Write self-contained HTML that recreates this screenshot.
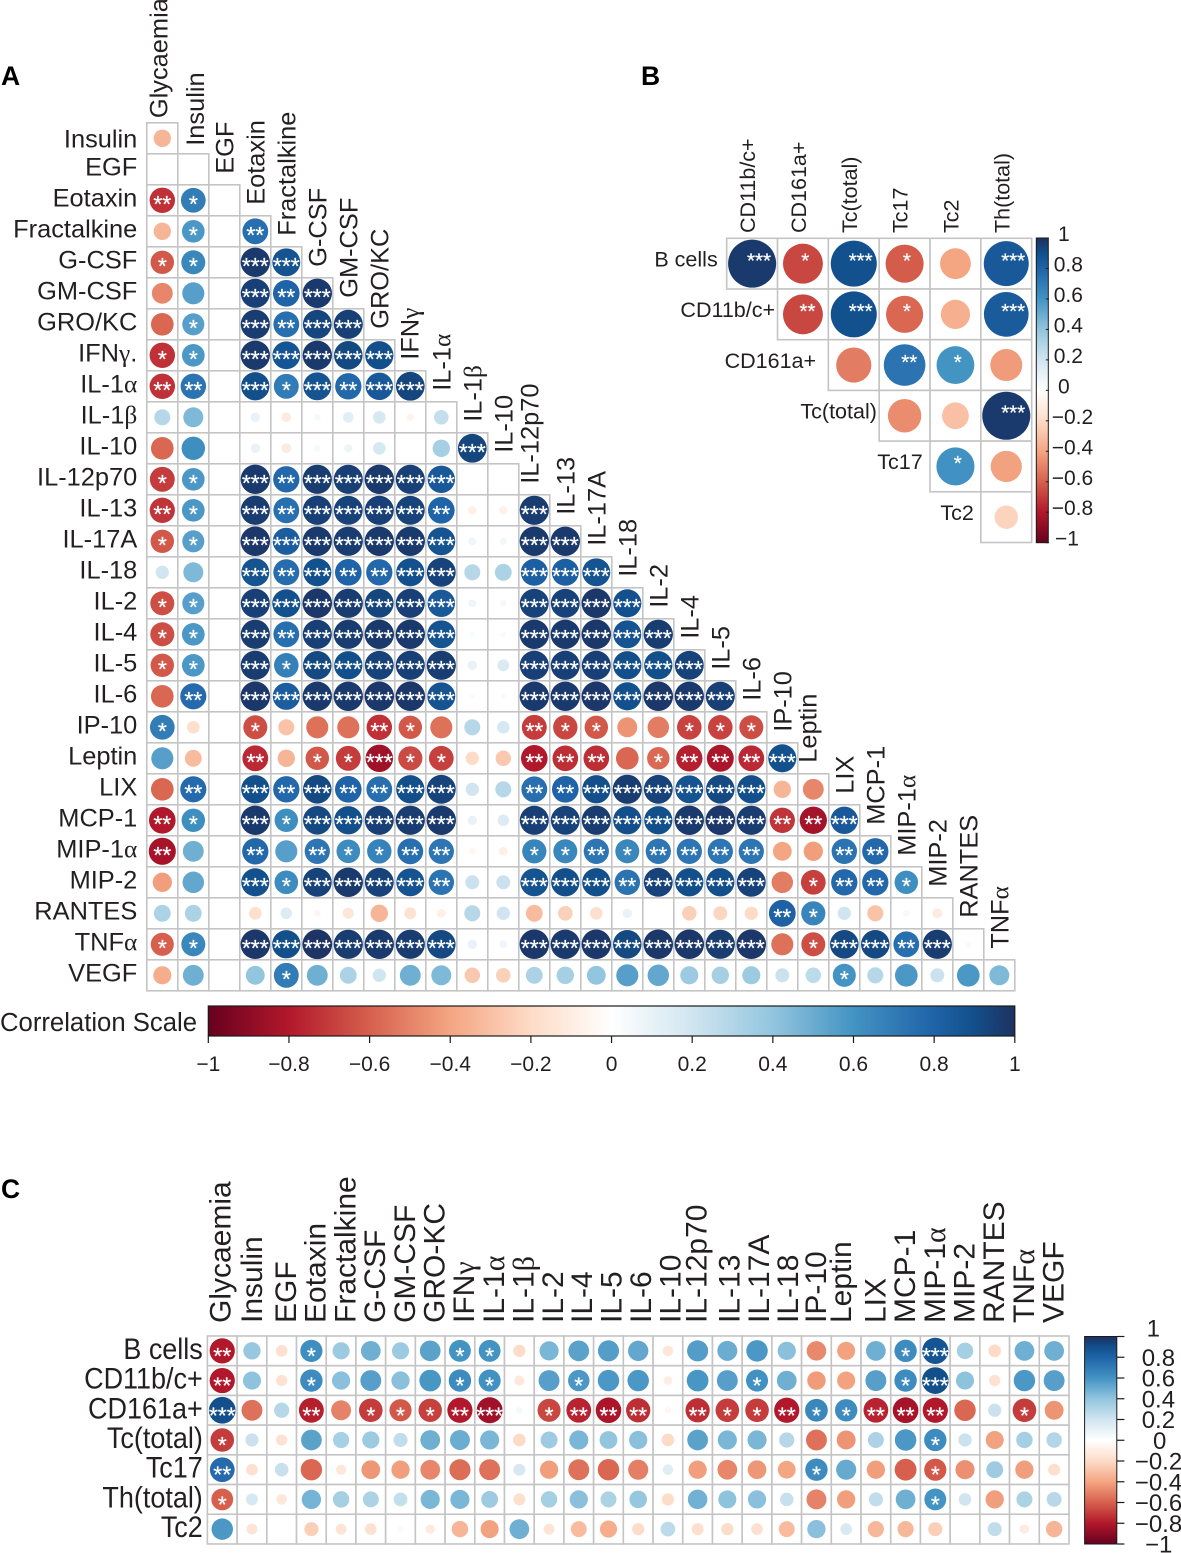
<!DOCTYPE html>
<html lang="en">
<head>
<meta charset="utf-8">
<title>Correlation matrices</title>
<style>
html,body{margin:0;padding:0;background:#fff;width:1181px;height:1553px;overflow:hidden}
svg{display:block;font-family:"Liberation Sans",Arial,sans-serif;fill:#231f20}
</style>
</head>
<body>
<svg id="figure" xmlns="http://www.w3.org/2000/svg" width="1181" height="1553" viewBox="0 0 1181 1553">
  <defs id="defs"></defs>
  <text x="1" y="85" font-size="26.5" font-weight="bold" fill="#000">A</text>
  <text x="641" y="85" font-size="26.5" font-weight="bold" fill="#000">B</text>
  <text x="1" y="1198" font-size="26.5" font-weight="bold" fill="#000">C</text>
  <g id="panelA"></g>
  <g id="barA"></g>
  <text x="0" y="1031" font-size="25.5" textLength="197" lengthAdjust="spacingAndGlyphs">Correlation Scale</text>
  <g id="panelB"></g>
  <g id="barB"></g>
  <g id="panelC"></g>
  <g id="barC"></g>
</svg>
<script>
// ---------- Panel A data ----------
const aRowLabels = ['Insulin','EGF','Eotaxin','Fractalkine','G-CSF','GM-CSF','GRO/KC','IFNγ.','IL-1α','IL-1β','IL-10','IL-12p70','IL-13','IL-17A','IL-18','IL-2','IL-4','IL-5','IL-6','IP-10','Leptin','LIX','MCP-1','MIP-1α','MIP-2','RANTES','TNFα','VEGF'];
const aColLabels = ['Glycaemia','Insulin','EGF','Eotaxin','Fractalkine','G-CSF','GM-CSF','GRO/KC','IFNγ','IL-1α','IL-1β','IL-10','IL-12p70','IL-13','IL-17A','IL-18','IL-2','IL-4','IL-5','IL-6','IP-10','Leptin','LIX','MCP-1','MIP-1α','MIP-2','RANTES','TNFα'];
const aValues = [
[-.34],
[0,0],
[-.73,.69,0],
[-.34,.58,0,.75],
[-.62,.65,0,.97,.88],
[-.49,.55,0,.95,.8,.97],
[-.58,.55,0,.96,.75,.93,.95],
[-.73,.58,0,.97,.87,.97,.92,.9],
[-.73,.73,0,.9,.7,.88,.78,.85,.93],
[.29,.45,0,.1,-.11,.05,.13,.18,-.06,.24],
[-.58,.62,0,.1,-.11,.05,.08,.18,0,.34,.93],
[-.7,.58,0,.97,.78,.96,.95,.97,.95,.85,0,0],
[-.72,.58,0,.96,.75,.95,.94,.95,.94,.8,-.085,-.08,.96],
[-.62,.55,0,.98,.83,.97,.96,.97,.97,.88,.07,.06,.97,.97],
[.2,.45,0,.88,.76,.89,.8,.78,.89,.94,.29,.32,.82,.82,.88],
[-.65,.55,0,.95,.89,.98,.96,.93,.95,.85,.07,.05,.94,.94,.98,.89],
[-.65,.58,0,.96,.75,.95,.96,.97,.97,.88,.03,.04,.97,.97,.98,.88,.96],
[-.62,.58,0,.96,.68,.92,.9,.94,.95,.96,.1,.16,.95,.95,.95,.9,.9,.94],
[-.58,.77,0,.98,.83,.97,.97,.98,.98,.88,.03,.03,.97,.97,.98,.89,.98,.97,.95],
[.69,-.18,0,-.65,-.29,-.55,-.55,-.73,-.62,-.55,.29,.18,-.7,-.67,-.62,-.45,-.52,-.68,-.68,-.65],
[.55,-.32,0,-.75,-.34,-.62,-.7,-.85,-.66,-.69,-.2,-.27,-.8,-.74,-.74,-.58,-.57,-.78,-.82,-.75,.89],
[-.58,.77,0,.9,.78,.92,.8,.75,.9,.94,.2,.29,.75,.8,.9,.96,.94,.88,.92,.9,-.34,-.49],
[-.8,.62,0,.97,.62,.92,.9,.95,.96,.97,.1,.15,.95,.94,.96,.9,.9,.97,.98,.96,-.72,-.84,.85],
[-.83,.49,0,.78,.55,.72,.63,.67,.75,.72,-.05,-.085,.66,.65,.72,.65,.72,.72,.72,.72,-.4,-.42,.73,.78],
[-.42,.52,0,.89,.63,.94,.97,.94,.88,.73,.22,.22,.88,.9,.9,.73,.94,.9,.9,.94,-.52,-.69,.78,.78,.62],
[.32,.32,0,-.18,.15,-.05,-.14,-.34,-.16,-.085,.29,.2,-.32,-.24,-.18,.1,0,-.24,-.22,-.2,.81,.66,.2,-.29,.05,-.11],
[-.6,.65,0,.98,.9,.99,.96,.97,.96,.92,.1,.07,.98,.97,.98,.92,.98,.98,.96,.98,-.55,-.65,.92,.92,.75,.96,-.04],
[-.37,.49,0,.4,.7,.49,.32,.2,.49,.45,-.27,-.24,.32,.34,.4,.55,.52,.37,.34,.37,.22,.27,.6,.29,.58,.22,.58,.45]
];
const aStars = ['0','00','210','0102','11033','000323','0103233','11033333','220313233','0000000000','00000000003','110323333300','2103233332003','11033333330033','000323223300333','1103333333003333','11032333330033333','110313333300333333','0203333333003333333','10010002100021100111','000201131100222012223','0203232233002233333300','21031333330033333333223','200202112200112122220022','0003133332003332333301221','00000000000000000000210000','110333333300333333330133230','0000100000000000000000100000'];

// ---------- Panel B data ----------
const bRowLabels = ['B cells','CD11b/c+','CD161a+','Tc(total)','Tc17','Tc2'];
const bColLabels = ['CD11b/c+','CD161a+','Tc(total)','Tc17','Tc2','Th(total)'];
const bValues = [
[.97,-.67,.89,-.61,-.4,.85],
[-.67,.89,-.58,-.36,.84],
[-.52,.73,.6,-.43],
[-.47,-.3,.97],
[.61,-.41],
[-.23]
];
const bStars = ['313103','23103','0210','003','10','0'];

// ---------- Panel C data ----------
const cRowLabels = ['B cells','CD11b/c+','CD161a+','Tc(total)','Tc17','Th(total)','Tc2'];
const cColLabels = ['Glycaemia','Insulin','EGF','Eotaxin','Fractalkine','G-CSF','GM-CSF','GRO-KC','IFNγ','IL-1α','IL-1β','IL-2','IL-4','IL-5','IL-6','IL-10','IL-12p70','IL-13','IL-17A','IL-18','IP-10','Leptin','LIX','MCP-1','MIP-1α','MIP-2','RANTES','TNFα','VEGF'];
const cValues = [
[-.8,.38,-.17,.62,.37,.49,.37,.54,.6,.6,-.19,.46,.54,.56,.52,-.14,.56,.5,.58,.42,-.48,-.41,.49,.63,.87,.34,-.2,.49,.49],
[-.8,.41,-.16,.63,.42,.55,.42,.59,.63,.61,-.13,.55,.58,.58,.58,-.1,.59,.55,.61,.49,-.43,-.41,.55,.63,.9,.41,-.16,.58,.55],
[.9,-.55,.29,-.78,-.5,-.7,-.62,-.69,-.8,-.85,.05,-.67,-.77,-.82,-.74,-.05,-.74,-.7,-.7,-.8,.65,.63,-.77,-.83,-.8,-.58,.22,-.7,-.45],
[-.7,.22,-.16,.54,.33,.37,.25,.49,.5,.46,-.2,.36,.46,.4,.42,-.2,.54,.46,.46,.29,-.55,-.45,.32,.58,.63,.22,-.41,.34,.3],
[.77,-.17,.23,-.58,-.13,-.44,-.42,-.49,-.56,-.55,.18,-.42,-.55,-.58,-.51,.14,-.42,-.49,-.44,-.4,.63,.51,-.42,-.6,-.62,-.46,.36,-.42,-.18],
[-.6,.18,-.14,.47,.34,.32,.24,.46,.46,.36,-.18,.34,.42,.32,.39,-.19,.48,.41,.42,.23,-.5,-.42,.25,.49,.6,.2,-.42,.32,.28],
[.58,-.15,.01,-.25,-.15,-.17,-.04,-.11,-.34,-.41,.49,-.15,-.32,-.37,-.19,.27,-.18,-.19,-.17,-.32,.42,.17,-.33,-.33,-.25,0,.25,-.11,-.34]
];
const cStars = [
'20010000110000000000000130000',
'20010000110010000010000130000',
'30020111230122202112112220010',
'10000000000000000000000010000',
'20000000000000000000100010000',
'10000000000000000000000010000',
'00000000000000000000000000000'
];

// ---------- Colorbar data ----------
const scaleTicks = [-1,-.8,-.6,-.4,-.2,0,.2,.4,.6,.8,1];
const scaleTickLabels = ['−1','−0.8','−0.6','−0.4','−0.2','0','0.2','0.4','0.6','0.8','1'];
const scaleStops = [-1,-.8,-.6,-.4,-.2,0,.2,.4,.6,.8,.9,1];
const scaleColors = ['#67001f','#b2182b','#d6604d','#f4a582','#fddbc7','#ffffff','#d1e5f0','#92c5de','#4393c3','#1f63a8','#124f8b','#1e3160'];

// ---------- Helpers ----------
const NS = 'http://www.w3.org/2000/svg';
function mk(tag, attrs, parent) {
  const e = document.createElementNS(NS, tag);
  for (const k in attrs) e.setAttribute(k, attrs[k]);
  if (parent) parent.appendChild(e);
  return e;
}
function slug(s) {
  return String(s).toLowerCase().replace(/α/g,'alpha').replace(/β/g,'beta').replace(/γ/g,'gamma').replace(/[^a-z0-9]+/g,'-').replace(/^-|-$/g,'');
}
function colorFor(v) {
  const t = Math.max(-1, Math.min(1, v));
  for (let i = 0; i < scaleStops.length - 1; i++) {
    if (t <= scaleStops[i + 1]) {
      const f = (t - scaleStops[i]) / (scaleStops[i + 1] - scaleStops[i]);
      const a = parseInt(scaleColors[i].slice(1), 16), b = parseInt(scaleColors[i + 1].slice(1), 16);
      const ch = s => Math.round(((a >> s) & 255) * (1 - f) + ((b >> s) & 255) * f);
      return 'rgb(' + ch(16) + ',' + ch(8) + ',' + ch(0) + ')';
    }
  }
  return scaleColors[scaleColors.length - 1];
}
function fillLabel(t, str) {
  str.split(/([αβγ])/).forEach(part => {
    if (!part) return;
    if (/[αβγ]/.test(part)) {
      const s = mk('tspan', {'font-family': '"Liberation Serif","DejaVu Serif",serif'}, t);
      
      
      s.textContent = part;
    } else {
      t.appendChild(document.createTextNode(part));
    }
  });
}
function drawCell(parent, x, y, w, h, name) {
  const c = mk('rect', {x: x, y: y, width: w, height: h, fill: '#fff', stroke: '#c4c4c4', 'stroke-width': 1.6}, parent);
  
  
}
function drawDot(parent, cx, cy, v, rad, name) {
  if (!v) return;
  const d = mk('circle', {cx: cx, cy: cy, r: rad * Math.sqrt(Math.abs(v)), fill: colorFor(v)}, parent);
  
  
}
function drawStars(parent, x, y, n, size, name) {
  if (!n) return;
  const s = mk('text', {x: x, y: y, 'font-size': size, 'text-anchor': 'middle', fill: '#fff', stroke: '#fff', 'stroke-width': .25}, parent);
  
  
  s.textContent = '*'.repeat(n);
}
function rowLabel(parent, x, y, str, size, sx) {
  const t = mk('text', {'text-anchor': 'end', 'font-size': size, transform: 'translate(' + x + ',' + y + ') scale(' + sx + ',1)'}, parent);
  
  
  fillLabel(t, str);
}
function colLabel(parent, x, y, str, size) {
  const t = mk('text', {'font-size': size, transform: 'translate(' + x + ',' + y + ') rotate(-90)'}, parent);
  
  
  fillLabel(t, str);
}

// ---------- Gradients ----------
const defs = document.getElementById('defs');
function gradient(id, vertical) {
  const g = mk('linearGradient', {id: id, x1: 0, y1: vertical ? 1 : 0, x2: vertical ? 0 : 1, y2: 0}, defs);
  scaleStops.forEach((s, i) => mk('stop', {offset: (s + 1) / 2, 'stop-color': scaleColors[i]}, g));
}
gradient('gradH', false);
gradient('gradV', true);

// ---------- Panel A ----------
(function () {
  const g = document.getElementById('panelA');
  const x0 = 146.8, y0 = 122.8, step = 31, rad = 14.9;
  const xA = c => x0 + step * c;
  const yA = r => y0 + step * r;
  aValues.forEach((row, r) => row.forEach((v, c) => {
    drawCell(g, xA(c), yA(r), step, step, slug(aRowLabels[r]) + '-' + slug(aColLabels[c]));
  }));
  aValues.forEach((row, r) => row.forEach((v, c) => {
    const name = slug(aRowLabels[r]) + '-' + slug(aColLabels[c]);
    const cx = xA(c) + step / 2, cy = yA(r) + step / 2;
    drawDot(g, cx, cy, v, rad, name);
    drawStars(g, cx, cy + 11.6, +aStars[r][c], 23, name);
  }));
  aRowLabels.forEach((l, r) => {
    const off = r === 0 ? 9.3 : 6;
    rowLabel(g, 137.3, yA(r) + step / 2 + off, l, 25.4, 1);
  });
  aColLabels.forEach((l, c) => {
    let off = 9.4;
    if (l === 'Glycaemia') off = 5;
    if (l === 'Insulin') off = 10.7;
    if (l === 'IFNγ') off = 8;
    if (l === 'Leptin') off = 3;
    if (l === 'IL-12p70') off = 4;
    const gap = c === 0 ? 4.7 : c === 1 ? 8 : 11;
    colLabel(g, xA(c) + step / 2 + off, yA(c) - gap, l, 25.4);
  });
})();

// ---------- Panel A colorbar ----------
(function () {
  const g = document.getElementById('barA');
  const left = 208.3, right = 1014.8, top = 1006, bottom = 1036;
  const sx = v => left + (v + 1) / 2 * (right - left);
  const b = mk('rect', {x: left, y: top, width: right - left, height: bottom - top, fill: 'url(#gradH)', stroke: '#1a1a1a', 'stroke-width': 1.2}, g);
  
  
  scaleTicks.forEach((v, i) => {
    const t = mk('line', {x1: sx(v), x2: sx(v), y1: bottom, y2: 1043, stroke: '#1a1a1a', 'stroke-width': 1.2}, g);
    
    
    const l = mk('text', {x: sx(v), y: 1071, 'font-size': 21, 'text-anchor': 'middle'}, g);
    
    
    l.textContent = scaleTickLabels[i];
  });
})();

// ---------- Panel B ----------
(function () {
  const g = document.getElementById('panelB');
  const x0 = 726.7, y0 = 238.3, sx = 50.83, sy = 50.7, rad = 24.4;
  bValues.forEach((row, r) => row.forEach((v, i) => {
    const c = r + i;
    drawCell(g, x0 + sx * c, y0 + sy * r, sx, sy, slug(bRowLabels[r]) + '-' + slug(bColLabels[c]));
  }));
  bValues.forEach((row, r) => row.forEach((v, i) => {
    const c = r + i;
    const name = slug(bRowLabels[r]) + '-' + slug(bColLabels[c]);
    const cx = x0 + sx * (c + .5), cy = y0 + sy * (r + .5);
    drawDot(g, cx, cy, v, rad, name);
    const n = +bStars[r][i];
    drawStars(g, cx + 2.3 * n, cy + 3.7, n, 20.5, name);
  }));
  const gaps = [9, 2.5, 12.3, 2.3, 7.3, 7];
  bRowLabels.forEach((l, r) => {
    rowLabel(g, x0 + sx * r - gaps[r], y0 + sy * (r + .5) + 2.7, l, 21.5, 1);
  });
  bColLabels.forEach((l, c) => {
    colLabel(g, x0 + sx * (c + .5) + 3, 233, l, 21.5);
  });
})();

// ---------- Panel B colorbar ----------
(function () {
  const g = document.getElementById('barB');
  const left = 1036.3, right = 1048.3, top = 238, bottom = 542.7;
  const sy = v => bottom - (v + 1) / 2 * (bottom - top);
  const b = mk('rect', {x: left, y: top, width: right - left, height: bottom - top, fill: 'url(#gradV)', stroke: '#1a1a1a', 'stroke-width': 1}, g);
  
  
  scaleTicks.forEach((v, i) => {
    const t = mk('line', {x1: right - 2.5, x2: right + .5, y1: sy(v), y2: sy(v), stroke: '#1a1a1a', 'stroke-width': 1}, g);
    
    
    const neg = v < 0;
    const x = neg ? (v === -1 ? 1055 : 1051.7) : (v === 1 || v === 0 ? 1058 : 1053.7);
    const l = mk('text', {x: x, y: sy(v) + 3, 'font-size': 21}, g);
    
    
    l.textContent = scaleTickLabels[i];
  });
})();

// ---------- Panel C ----------
(function () {
  const g = document.getElementById('panelC');
  const x0 = 207.4, y0 = 1336, step = 29.71, rad = 14.1;
  const xC = c => x0 + step * c;
  const yC = r => y0 + step * r;
  cValues.forEach((row, r) => row.forEach((v, c) => {
    drawCell(g, xC(c), yC(r), step, step, slug(cRowLabels[r]) + '-' + slug(cColLabels[c]));
  }));
  cValues.forEach((row, r) => row.forEach((v, c) => {
    const name = slug(cRowLabels[r]) + '-' + slug(cColLabels[c]);
    const cx = xC(c) + step / 2, cy = yC(r) + step / 2;
    drawDot(g, cx, cy, v, rad, name);
    drawStars(g, cx, cy + 13, +cStars[r][c], 23, name);
  }));
  cRowLabels.forEach((l, r) => {
    rowLabel(g, 202.8, yC(r) + step / 2 + 8, l, 30, .9);
  });
  cColLabels.forEach((l, c) => {
    let off = c === 0 ? 8 : c === 1 ? 10 : c <= 9 ? 14.3 : c <= 19 ? 14 - (c - 10) * .28 : 9.5;
    if (l === 'IL-12p70') off = 9;
    if (l === 'Leptin') off = 5;
    colLabel(g, xC(c) + step / 2 + off, 1323, l, 30);
  });
})();

// ---------- Panel C colorbar ----------
(function () {
  const g = document.getElementById('barC');
  const left = 1084.6, right = 1116.8, top = 1336.5, bottom = 1544;
  const sy = v => bottom - (v + 1) / 2 * (bottom - top);
  const b = mk('rect', {x: left, y: top, width: right - left, height: bottom - top, fill: 'url(#gradV)', stroke: '#1a1a1a', 'stroke-width': 1}, g);
  
  
  scaleTicks.forEach((v, i) => {
    const t = mk('line', {x1: right, x2: 1124.4, y1: sy(v), y2: sy(v), stroke: '#1a1a1a', 'stroke-width': 1.2}, g);
    
    
    const neg = v < 0;
    const x = neg ? (v === -1 ? 1145 : 1134.8) : (v === 1 ? 1146.6 : v === 0 ? 1153 : 1141.7);
    const yOff = v === 1 ? -8.5 : 0;
    const l = mk('text', {x: x, y: sy(v) + 8.5 + yOff, 'font-size': 24}, g);
    
    
    l.textContent = scaleTickLabels[i];
  });
})();
</script>
</body>
</html>
